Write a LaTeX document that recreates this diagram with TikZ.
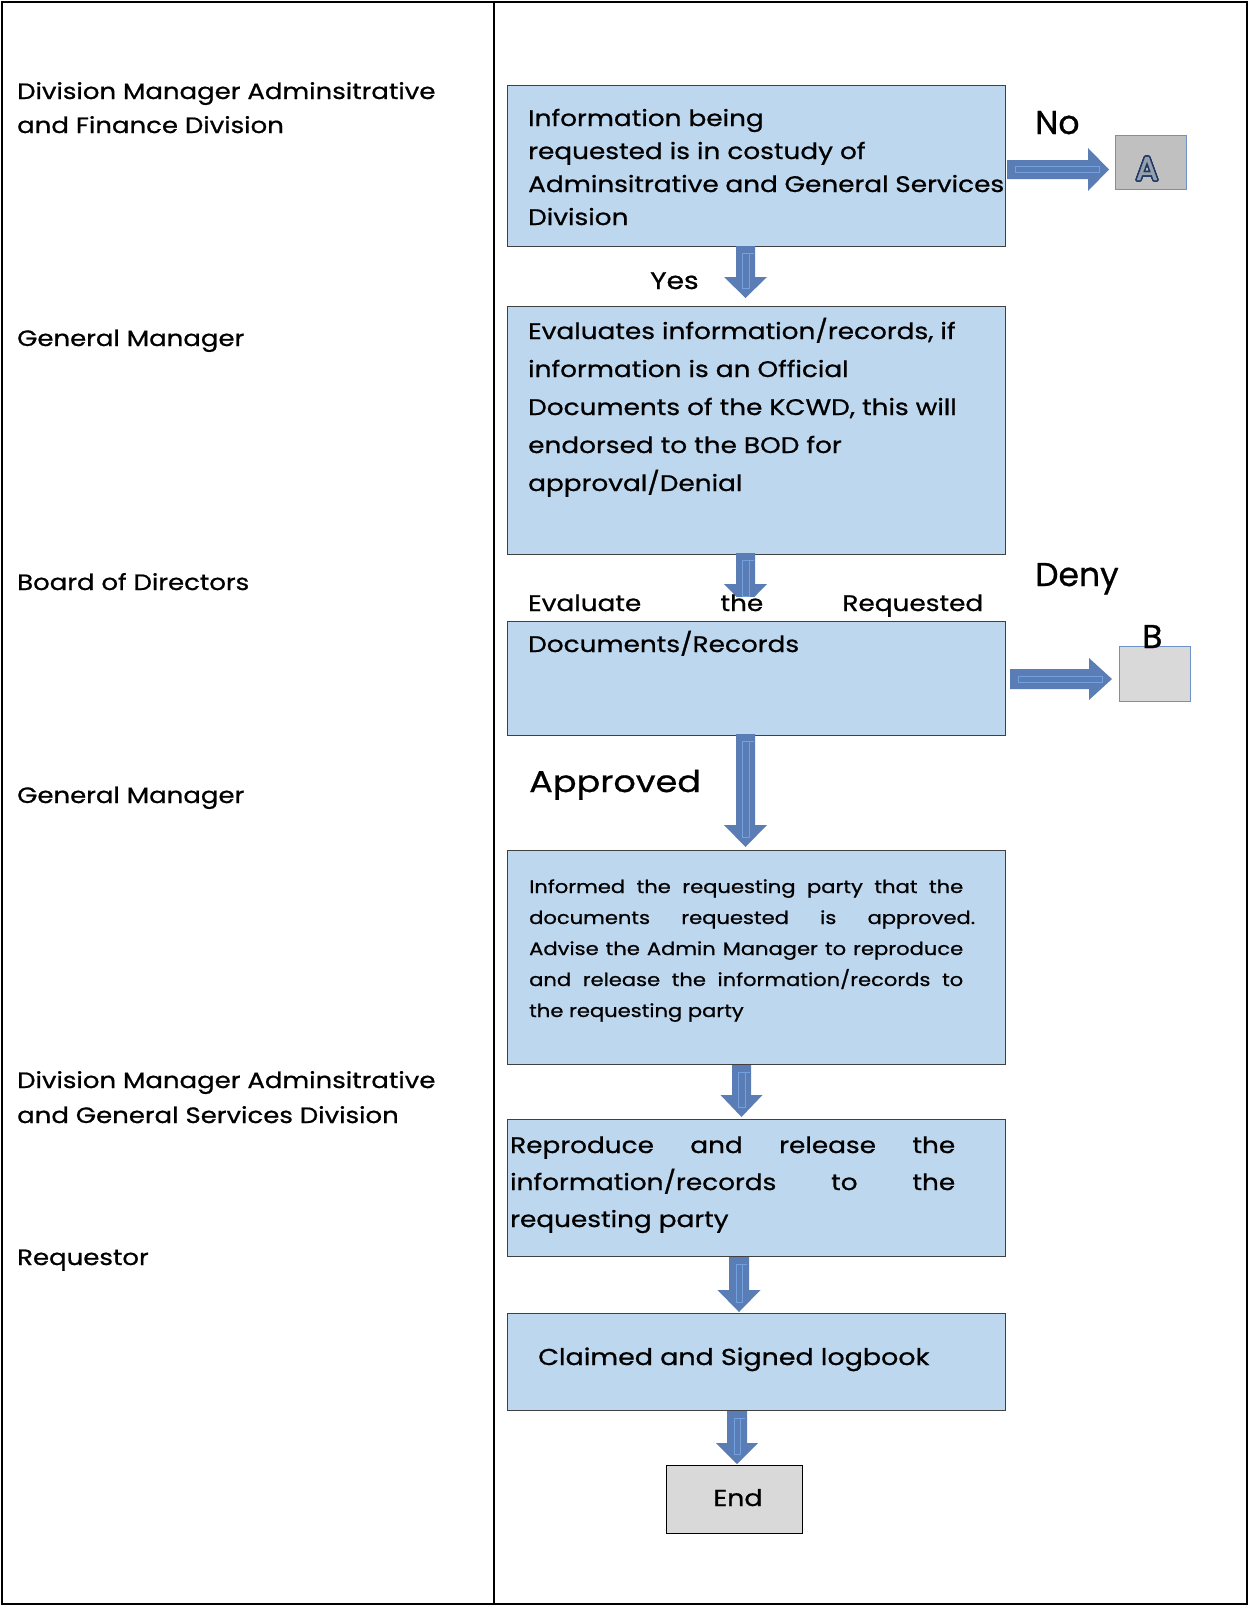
\documentclass[tikz,border=0pt]{standalone}
\usepackage{fontspec}
\setmainfont{Poppins}[FakeStretch=1.17, FakeBold=0.8]
\newfontfamily\plainfont{Poppins}[FakeBold=0.8]
\usepackage{contour}
\contourlength{1.5pt}
\usetikzlibrary{calc}
\definecolor{boxfill}{RGB}{189,215,238}
\definecolor{boxline}{RGB}{64,64,64}
\definecolor{arrowfill}{RGB}{91,125,181}
\definecolor{arrowline}{RGB}{115,160,222}
\definecolor{graybox}{RGB}{217,217,217}
\definecolor{grayboxA}{RGB}{192,192,192}
\definecolor{blueedge}{RGB}{110,145,200}
\definecolor{navy}{RGB}{31,56,100}
\definecolor{lettergray}{RGB}{150,160,175}
\newcommand{\vblk}[6]{%
  \fill[arrowfill] (#1-#5,#2) -- (#1+#5,#2) -- (#1+#5,#3) -- (#1+#6,#3) -- (#1,#4) -- (#1-#6,#3) -- (#1-#5,#3) -- cycle;
  \draw[arrowline, line width=0.5pt] (#1-3,#2+7) rectangle (#1+3.5,#4-10);
  \draw[arrowline, line width=0.5pt] (#1+3.5,#2+7) -- (#1+8,#2+7);
}
\newcommand{\hblk}[6]{%
  \fill[arrowfill] (#2,#1-#5) -- (#3,#1-#5) -- (#3,#1-#6) -- (#4,#1) -- (#3,#1+#6) -- (#3,#1+#5) -- (#2,#1+#5) -- cycle;
  \draw[arrowline, line width=0.5pt] (#2+8,#1-3) rectangle (#4-10,#1+3);
}
\begin{document}
\begin{tikzpicture}[x=1pt,y=-1pt,
  procbox/.style={draw=boxline, fill=boxfill, line width=1.2pt, anchor=north west, inner sep=0pt},
  endbox/.style={draw=black, fill=graybox, line width=1pt, anchor=north west, inner sep=0pt},
  letterbox/.style={draw=blueedge, line width=1pt, anchor=north west, inner sep=0pt},
  txt/.style={anchor=base west, inner sep=0pt, font=\fontsize{22.2}{34}\selectfont},
  small/.style={anchor=base west, inner sep=0pt, font=\fontsize{18}{31}\selectfont},
  big/.style={anchor=base west, inner sep=0pt, font=\plainfont\fontsize{33}{40}\selectfont}
]
\useasboundingbox (0,0) rectangle (1249,1606);
% frame
\draw[line width=1.5pt] (2,2) rectangle (1247,1604);
\draw[line width=1.5pt] (494,2) -- (494,1604);

% left column labels
\node[txt] (l1) at (17,99) {\parbox[t]{470pt}{\raggedright Division Manager Adminsitrative\\and Finance Division}};
\node[txt] (l2) at (17,346) {General Manager};
\node[txt] (l3) at (17,590) {Board of Directors};
\node[txt] (l4) at (17,803) {General Manager};
\node[txt, font=\fontsize{22.2}{35}\selectfont] (l5) at (17,1088) {\parbox[t]{470pt}{\raggedright Division Manager Adminsitrative\\and General Services Division}};
\node[txt] (l6) at (17,1265) {Requestor};

% process boxes
\node[procbox, minimum width=498pt, minimum height=161pt] (b1) at (507,85) {};
\node[procbox, minimum width=498pt, minimum height=248pt] (b2) at (507,306) {};
\node[procbox, minimum width=498pt, minimum height=114pt] (b3) at (507,621) {};
\node[procbox, minimum width=498pt, minimum height=214pt] (b4) at (507,850) {};
\node[procbox, minimum width=498pt, minimum height=137pt] (b5) at (507,1119) {};
\node[procbox, minimum width=498pt, minimum height=97pt] (b6) at (507,1313) {};
\node[endbox, minimum width=136pt, minimum height=68pt] (end) at (666,1465) {};
\node[letterbox, fill=grayboxA, minimum width=71pt, minimum height=54pt] (ba) at (1115,135) {};
\node[letterbox, fill=graybox, minimum width=71pt, minimum height=55pt] (bb) at (1119,646) {};

% arrows
\vblk{745.5}{246}{277}{298}{9.5}{21.5}
\vblk{745.5}{553}{584}{606}{9.5}{21.5}
\vblk{745.5}{734}{825}{847}{9.5}{21.5}
\vblk{741.5}{1065}{1095}{1117}{9.5}{21}
\vblk{739}{1257}{1290}{1312}{10}{21.5}
\vblk{737}{1411}{1443}{1464}{10}{21}
\hblk{169.5}{1007}{1088}{1109}{9.5}{21.5}
\hblk{679}{1010}{1089}{1112}{10}{21}

% box texts
\node[txt, font=\fontsize{22.5}{33}\selectfont] (t1) at (528,126) {\parbox[t]{476pt}{\raggedright Information being\\requested is in costudy of\\Adminsitrative and General Services\\Division}};
\node[txt, font=\fontsize{22.5}{38}\selectfont] (t2) at (528,339) {\parbox[t]{470pt}{\raggedright Evaluates information/records, if\\information is an Official\\Documents of the KCWD, this will\\endorsed to the BOD for\\approval/Denial}};
\fill[white] (507,597) rectangle (1005,620);
\node[txt, font=\fontsize{22.5}{41}\selectfont] (t3) at (528,611) {\parbox[t]{470pt}{\makebox[455pt][s]{Evaluate the Requested}\\Documents/Records}};
\node[small] (t4) at (529,893) {\parbox[t]{470pt}{\makebox[434pt][s]{Informed the requesting party that the}\\\makebox[446pt][s]{documents requested is approved.}\\\makebox[434pt][s]{Advise the Admin Manager to reproduce}\\\makebox[434pt][s]{and release the information/records to}\\the requesting party}};
\node[txt, font=\fontsize{22.5}{37}\selectfont] (t5) at (510,1153) {\parbox[t]{470pt}{\makebox[445pt][s]{Reproduce and release the}\\\makebox[445pt][s]{information/records to the}\\requesting party}};
\node[txt, font=\fontsize{23}{34}\selectfont] (t6) at (538,1365) {Claimed and Signed logbook};
\node[inner sep=0pt, font=\fontsize{23}{30}\selectfont, anchor=base] (tend) at (738,1506) {End};

% decision labels
\node[big] (no) at (1035,134) {No};
\node[txt, font=\fontsize{24}{30}\selectfont] (yes) at (650,289) {Yes};
\node[big] (deny) at (1035,586) {Deny};
\node[txt, font=\fontsize{30}{40}\selectfont] (appr) at (529,792) {Approved};
\node[big] (lb) at (1142,648) {B};
\node[inner sep=0pt, anchor=base, font=\plainfont\fontsize{33}{38}\selectfont] (la) at (1147,180) {\contour{navy}{\textcolor{lettergray}{A}}};
\end{tikzpicture}
\end{document}
